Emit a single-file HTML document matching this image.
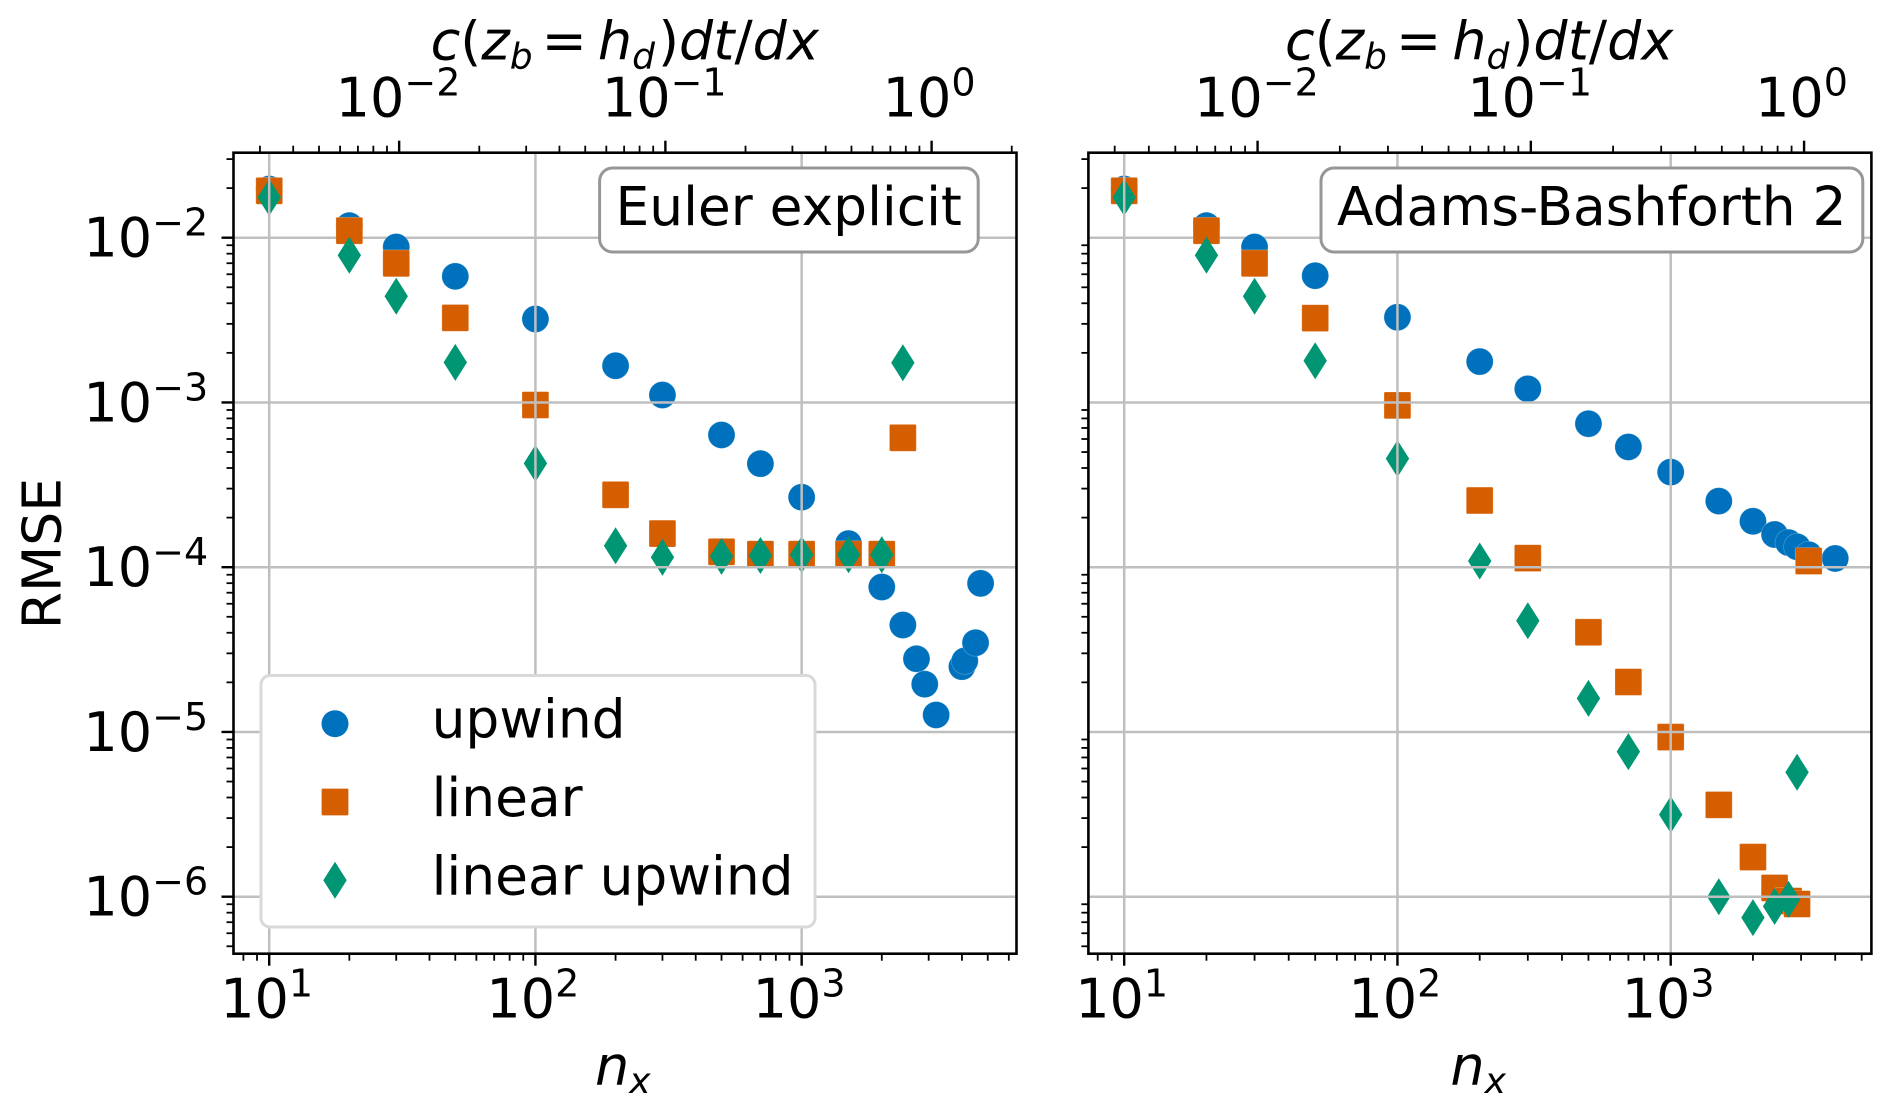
<!DOCTYPE html>
<html lang="en">
<head>
<meta charset="utf-8">
<title>RMSE versus nx for Euler explicit and Adams-Bashforth 2</title>
<style>
html,body{margin:0;padding:0;background:#fff;width:1892px;height:1113px;overflow:hidden}
svg{display:block}
text{font-family:"DejaVu Sans","Liberation Sans",sans-serif;fill:#000}
</style>
</head>
<body>
<svg id="figure" xmlns="http://www.w3.org/2000/svg" width="1892" height="1113" viewBox="0 0 1892 1113">
  <rect x="0" y="0" width="1892" height="1113" fill="#fff"/>
  <g id="panel-euler"></g>
  <g id="panel-adams"></g>

  <text transform="translate(60.3,553.5) rotate(-90)" text-anchor="middle" font-size="53.6">RMSE</text>

  <text x="430.6" y="59.3" font-size="54" font-style="italic">c<tspan font-style="normal">(</tspan>z<tspan font-size="36" dy="9">b</tspan><tspan font-style="normal" dy="-9" dx="9">=</tspan><tspan dx="11">h</tspan><tspan font-size="36" dy="9">d</tspan><tspan font-style="normal" dy="-9" dx="3">)</tspan>dt<tspan font-style="normal">/</tspan>dx</text>
  <text x="1285" y="59.3" font-size="54" font-style="italic">c<tspan font-style="normal">(</tspan>z<tspan font-size="36" dy="9">b</tspan><tspan font-style="normal" dy="-9" dx="9">=</tspan><tspan dx="11">h</tspan><tspan font-size="36" dy="9">d</tspan><tspan font-style="normal" dy="-9" dx="3">)</tspan>dt<tspan font-style="normal">/</tspan>dx</text>
  <rect x="0" y="0" width="1892" height="19" fill="#fff"/>

  <text x="595" y="1085" font-size="54" font-style="italic">n<tspan font-size="36" dy="8">x</tspan></text>
  <text x="1450.4" y="1085" font-size="54" font-style="italic">n<tspan font-size="36" dy="8">x</tspan></text>

  <g>
    <rect x="599.6" y="168" width="378.6" height="84" rx="13" ry="13" fill="#fff" stroke="#979797" stroke-width="3"/>
    <text x="615.5" y="225" font-size="53.4">Euler explicit</text>
  </g>
  <g>
    <rect x="1321" y="168" width="541.8" height="84" rx="13" ry="13" fill="#fff" stroke="#979797" stroke-width="3"/>
    <text x="1337" y="225" font-size="53.4">Adams-Bashforth 2</text>
  </g>

  <g>
    <rect x="261" y="675.5" width="554" height="251.5" rx="9" ry="9" fill="#fff" stroke="#d9d9d9" stroke-width="3"/>
    <g>
      <circle cx="335" cy="723.7" r="13.5" fill="#0072bd"/>
      <text x="431.6" y="737.7" font-size="53.4">upwind</text>
    </g>
    <g>
      <rect x="321.6" y="788.6" width="26.8" height="26.8" rx="1.2" fill="#d55e00"/>
      <text x="431.6" y="816" font-size="53.4">linear</text>
    </g>
    <g>
      <polygon points="335,861.8 346.7,880.3 335,898.8 323.3,880.3" fill="#009673"/>
      <text x="431.6" y="894.3" font-size="53.4">linear upwind</text>
    </g>
  </g>
</svg>

<script>
// ---------- Tick values and labels ----------
const xTickValues = [10, 100, 1000];
const xTickExponents = ['1', '2', '3'];
const topTickValues = [0.01, 0.1, 1];
const topTickExponents = ['\u22122', '\u22121', '0'];
const yTickValues = [1e-2, 1e-3, 1e-4, 1e-5, 1e-6];
const yTickExponents = ['\u22122', '\u22123', '\u22124', '\u22125', '\u22126'];
// Courant number per unit nx, relates the top axis to the bottom axis
const courantPerNx = 3.25e-4;

// ---------- Euler explicit ----------
const eulerUpwindNx = [10, 20, 30, 50, 100, 200, 300, 500, 700, 1000, 1500, 2000, 2400, 2700, 2900, 3200, 4000, 4100, 4500, 4700];
const eulerUpwindRmse = [0.01975, 0.01183, 0.00878, 0.00583, 0.00321, 0.00167, 0.00111, 0.000635, 0.000425, 0.000266, 0.000139, 7.58e-5, 4.46e-5, 2.78e-5, 1.95e-5, 1.268e-5, 2.49e-5, 2.7e-5, 3.48e-5, 7.98e-5];
const eulerLinearNx = [10, 20, 30, 50, 100, 200, 300, 500, 700, 1000, 1500, 2000, 2400];
const eulerLinearRmse = [0.01926, 0.01103, 0.00699, 0.00326, 0.000965, 0.000275, 0.00016, 0.000124, 0.00012, 0.00012, 0.00012, 0.00012, 0.00061];
const eulerLinearUpwindNx = [10, 20, 30, 50, 100, 200, 300, 500, 700, 1000, 1500, 2000, 2400];
const eulerLinearUpwindRmse = [0.01758, 0.00782, 0.00441, 0.00175, 0.000427, 0.000135, 0.000115, 0.0001164, 0.0001178, 0.000119, 0.000119, 0.000119, 0.001743];

// ---------- Adams-Bashforth 2 ----------
const adamsUpwindNx = [10, 20, 30, 50, 100, 200, 300, 500, 700, 1000, 1500, 2000, 2400, 2700, 2900, 3200, 4000];
const adamsUpwindRmse = [0.01975, 0.01183, 0.00878, 0.00588, 0.00329, 0.00177, 0.00121, 0.000743, 0.000537, 0.000378, 0.000252, 0.00019, 0.000158, 0.000141, 0.000133, 0.000119, 0.000113];
const adamsLinearNx = [10, 20, 30, 50, 100, 200, 300, 500, 700, 1000, 1500, 2000, 2400, 2700, 2900, 3200];
const adamsLinearRmse = [0.01926, 0.01103, 0.00699, 0.00325, 0.00096, 0.000254, 0.0001135, 4.03e-5, 2.01e-5, 9.31e-6, 3.61e-6, 1.74e-6, 1.13e-6, 9.42e-7, 9.03e-7, 0.000109];
const adamsLinearUpwindNx = [10, 20, 30, 50, 100, 200, 300, 500, 700, 1000, 1500, 2000, 2400, 2700, 2900];
const adamsLinearUpwindRmse = [0.01758, 0.00782, 0.00441, 0.00179, 0.000456, 0.000109, 4.73e-5, 1.6e-5, 7.59e-6, 3.15e-6, 1e-6, 7.46e-7, 8.73e-7, 9.64e-7, 5.69e-6];

const SVG_NS = 'http://www.w3.org/2000/svg';
const BLUE = '#0072bd', ORANGE = '#d55e00', GREEN = '#009673', GRID = '#bfbfbf';
const Y_TOP = 152.7, Y_BOTTOM = 953.7;
const Y_LOG_MAX = -1.484, Y_LOG_MIN = -6.346;

function yScale(v) {
  return Y_TOP + (Y_LOG_MAX - Math.log10(v)) / (Y_LOG_MAX - Y_LOG_MIN) * (Y_BOTTOM - Y_TOP);
}
function makeXScale(panel) {
  return function (v) {
    return panel.left + (Math.log10(v) - panel.xLogMin) / (panel.xLogMax - panel.xLogMin) * (panel.right - panel.left);
  };
}
function make(tag, attrs, parent) {
  const el = document.createElementNS(SVG_NS, tag);
  for (const k in attrs) el.setAttribute(k, attrs[k]);
  parent.appendChild(el);
  return el;
}
function minorValues(logLo, logHi) {
  const out = [];
  for (let e = Math.floor(logLo) - 1; e <= Math.ceil(logHi); e++) {
    for (let m = 2; m <= 9; m++) {
      const v = m * Math.pow(10, e);
      const l = Math.log10(v);
      if (l >= logLo && l <= logHi) out.push(v);
    }
  }
  return out;
}
function powerLabel(x, y, exponent, parent, name) {
  const t = make('text', { x: x, y: y, 'font-size': 54 }, parent);
  
  
  t.appendChild(document.createTextNode('10'));
  const s = make('tspan', { dy: -21, 'font-size': 38 }, t);
  s.textContent = exponent;
  return t;
}

function drawPanel(panel) {
  const g = document.getElementById(panel.id);
  const x = makeXScale(panel);

  // The top horizontal gridline runs beneath the markers in the reference
  const underLine = make('line', { x1: panel.left, x2: panel.right, y1: yScale(yTickValues[0]), y2: yScale(yTickValues[0]), stroke: GRID, 'stroke-width': 2.5 }, g);
  
  

  // Markers
  panel.series.forEach(function (s) {
    const group = make('g', {}, g);
    
    
    s.nx.forEach(function (n, i) {
      const cx = x(n), cy = yScale(s.rmse[i]);
      let mark;
      if (s.shape === 'circle') {
        mark = make('circle', { cx: cx, cy: cy, r: 13.5, fill: s.color, stroke: '#fff', 'stroke-opacity': 0.25, 'stroke-width': 0.8 }, group);
      } else if (s.shape === 'square') {
        mark = make('rect', { x: cx - 13.4, y: cy - 13.4, width: 26.8, height: 26.8, rx: 1.2, fill: s.color, stroke: '#fff', 'stroke-opacity': 0.25, 'stroke-width': 0.8 }, group);
      } else {
        mark = make('polygon', { points: [cx, cy - 18.5, cx + 11.7, cy, cx, cy + 18.5, cx - 11.7, cy].join(' '), fill: s.color }, group);
      }
      
      
    });
  });

  // Remaining grid sits over the markers
  const grid = make('g', { stroke: GRID, 'stroke-width': 2.5 }, g);
  
  
  xTickValues.forEach(function (v) {
    const line = make('line', { x1: x(v), x2: x(v), y1: Y_TOP, y2: Y_BOTTOM }, grid);
    
    
  });
  yTickValues.slice(1).forEach(function (v) {
    const line = make('line', { x1: panel.left, x2: panel.right, y1: yScale(v), y2: yScale(v) }, grid);
    
    
  });

  // Ticks
  const ticks = make('g', { stroke: '#000' }, g);
  
  

  minorValues(panel.xLogMin, panel.xLogMax).forEach(function (v) {
    const t = make('line', { x1: x(v), x2: x(v), y1: Y_BOTTOM, y2: Y_BOTTOM + 7, 'stroke-width': 1.8 }, ticks);
    
    
  });
  xTickValues.forEach(function (v, i) {
    const t = make('line', { x1: x(v), x2: x(v), y1: Y_BOTTOM, y2: Y_BOTTOM + 12, 'stroke-width': 2.4 }, ticks);
    
    
    powerLabel(x(v) - 49, 1017.7, xTickExponents[i], g, 'x-tick-label');
  });

  const topLogMin = panel.xLogMin + Math.log10(courantPerNx);
  const topLogMax = panel.xLogMax + Math.log10(courantPerNx);
  minorValues(topLogMin, topLogMax).forEach(function (v) {
    const px = x(v / courantPerNx);
    const t = make('line', { x1: px, x2: px, y1: Y_TOP, y2: Y_TOP - 7, 'stroke-width': 1.8 }, ticks);
    
    
  });
  topTickValues.forEach(function (v, i) {
    const px = x(v / courantPerNx);
    const t = make('line', { x1: px, x2: px, y1: Y_TOP, y2: Y_TOP - 12, 'stroke-width': 2.4 }, ticks);
    
    
    const offset = topTickExponents[i].length > 1 ? 63.5 : 49;
    powerLabel(px - offset, 116.7, topTickExponents[i], g, 'top-tick-label');
  });

  minorValues(Y_LOG_MIN, Y_LOG_MAX).forEach(function (v) {
    const t = make('line', { x1: panel.left, x2: panel.left - 7, y1: yScale(v), y2: yScale(v), 'stroke-width': 1.8 }, ticks);
    
    
  });
  if (panel.showYLabels) {
    yTickValues.forEach(function (v, i) {
      const t = make('line', { x1: panel.left, x2: panel.left - 12, y1: yScale(v), y2: yScale(v), 'stroke-width': 2.4 }, ticks);
      
      
      powerLabel(83.4, yScale(v) + 19, yTickExponents[i], g, 'y-tick-label');
    });
  }

  // Frame
  const frame = make('rect', { x: panel.left, y: Y_TOP, width: panel.right - panel.left, height: Y_BOTTOM - Y_TOP, fill: 'none', stroke: '#000', 'stroke-width': 2.6 }, g);
  
  
}

drawPanel({
  id: 'panel-euler', left: 233.5, right: 1016.5, xLogMin: 0.8659, xLogMax: 3.807, showYLabels: true,
  series: [
    { name: 'upwind', shape: 'circle', color: BLUE, nx: eulerUpwindNx, rmse: eulerUpwindRmse },
    { name: 'linear', shape: 'square', color: ORANGE, nx: eulerLinearNx, rmse: eulerLinearRmse },
    { name: 'linear-upwind', shape: 'diamond', color: GREEN, nx: eulerLinearUpwindNx, rmse: eulerLinearUpwindRmse }
  ]
});
drawPanel({
  id: 'panel-adams', left: 1088.4, right: 1871.4, xLogMin: 0.869, xLogMax: 3.7345, showYLabels: false,
  series: [
    { name: 'upwind', shape: 'circle', color: BLUE, nx: adamsUpwindNx, rmse: adamsUpwindRmse },
    { name: 'linear', shape: 'square', color: ORANGE, nx: adamsLinearNx, rmse: adamsLinearRmse },
    { name: 'linear-upwind', shape: 'diamond', color: GREEN, nx: adamsLinearUpwindNx, rmse: adamsLinearUpwindRmse }
  ]
});
</script>
</body>
</html>
